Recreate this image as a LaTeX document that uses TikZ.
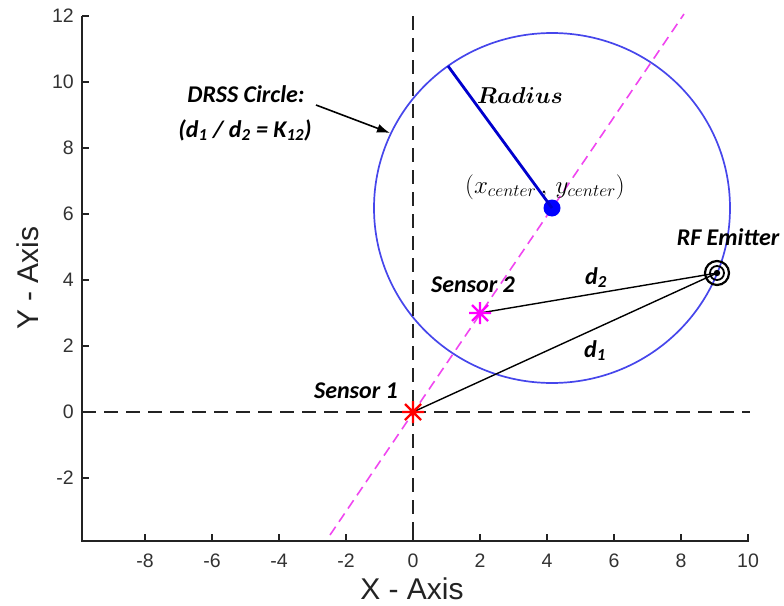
\RequirePackage{fix-cm}
\documentclass[tikz,border=0pt]{standalone}
\usepackage{bm}
\usepackage[no-math]{fontspec}
\setmainfont{Carlito}
\newfontfamily\arialfont{Liberation Sans}
\usetikzlibrary{arrows.meta}
\definecolor{circblue}{RGB}{70,70,235}
\definecolor{radblue}{RGB}{0,0,205}
\definecolor{dotblue}{RGB}{0,0,255}
\definecolor{magline}{RGB}{240,70,240}
\definecolor{magstar}{RGB}{255,0,255}
\definecolor{axgray}{RGB}{35,35,35}
\definecolor{ticklab}{RGB}{50,50,50}
\begin{document}
\begin{tikzpicture}[x=1pt,y=-1pt,
  lbl/.style={font=\fontsize{24}{28}\selectfont\bfseries\itshape, inner sep=0pt, anchor=base},
  ticklbl/.style={font=\arialfont\fontsize{19.5}{22}\selectfont, text=ticklab, inner sep=0pt},
  axlbl/.style={font=\arialfont\fontsize{30}{34}\selectfont, text=axgray, inner sep=0pt, anchor=base},
  refline/.style={axgray, line width=2pt, dash pattern=on 14pt off 8pt},
  axisline/.style={axgray, line width=1.8pt},
  magdash/.style={magline, line width=1.6pt, dash pattern=on 10pt off 6pt},
  distline/.style={black, line width=1.4pt},
  pics/starmark/.style={code={
    \draw (-11,0) -- (11,0) (0,-11) -- (0,11) (-8,-8) -- (8,8) (-8,8) -- (8,-8);}},
]
\useasboundingbox (0,0) rectangle (784,605);
% key points (pixel coordinates)
\coordinate (S1) at (413,412);
\coordinate (S2) at (480,313);
\coordinate (E) at (717,273);
\coordinate (C) at (552,208);
\coordinate (Rend) at (448,66);
\coordinate (magA) at (330,535);
\coordinate (magB) at (684,14);
\coordinate (hA) at (82,412);
\coordinate (hB) at (750,412);
\coordinate (vA) at (413,16);
\coordinate (vB) at (413,541);
\coordinate (origin) at (82,541);
\coordinate (ytop) at (82,16);
\coordinate (xright) at (749,541);

% DRSS circle
\draw[circblue, line width=1.7pt] (C) ellipse [x radius=178, y radius=175];

% reference dashed axes
\draw[refline] (hA) -- (hB);
\draw[refline] (vA) -- (vB);

% axes
\draw[axisline] (ytop) -- (origin) -- (xright);
\foreach \k in {-8,-6,...,10} {
  \draw[axisline] ({413+33.5*(\k)},541) -- ++(0,-7);
  \node[ticklbl, anchor=base] (xt\k) at ({413+33.5*(\k)},567) {\k};
}
\foreach \k in {-2,0,...,12} {
  \draw[axisline] (82,{412-33*(\k)}) -- ++(7,0);
  \node[ticklbl, anchor=east] (yt\k) at (74,{412-33*(\k)}) {\k};
}
\node[axlbl] (xlab) at (412,599) {X - Axis};
\node[axlbl, rotate=90] (ylab) at (38,278) {Y - Axis};

% sensor line
\draw[magdash] (magA) -- (magB);

% distances
\draw[distline] (S1) -- (E);
\draw[distline] (S2) -- (E);

% markers
\pic[red, line width=2.2pt] at (S1) {starmark};
\pic[magstar, line width=2.2pt] at (S2) {starmark};
\draw[black, line width=2.2pt] (E) circle (12);
\draw[black, line width=1.8pt] (E) circle (7);
\fill[black] (E) circle (3.2);

% center and radius
\node[font=\fontsize{25}{29}\selectfont, inner sep=0pt, anchor=base] (cen) at (545,193) {$(x_{center}\,,\,y_{center})$};
\fill[dotblue] (C) circle (8.5);
\draw[radblue, line width=2.8pt] (C) -- (Rend);
\node[font=\fontsize{23}{27}\selectfont, inner sep=0pt, anchor=base] (rad) at (520,103) {$\bm{Radius}$};

% labels
\node[lbl] (drss1) at (246,102) {DRSS Circle:};
\node[lbl] (drss2) at (245,137) {(d\textsubscript{1} / d\textsubscript{2} = K\textsubscript{12})};
\coordinate (arrS) at (316,105);
\coordinate (arrT) at (390,133);
\draw[black, line width=1.6pt, -{Latex[length=13pt,width=9pt]}] (arrS) -- (arrT);
\node[lbl] (s1lab) at (356,398) {Sensor 1};
\node[lbl] (s2lab) at (473,292) {Sensor 2};
\node[lbl] (elab) at (728,245) {RF Emitter};
\node[lbl] (d2lab) at (596,284) {d\textsubscript{2}};
\node[lbl] (d1lab) at (595,357) {d\textsubscript{1}};
\end{tikzpicture}
\end{document}
